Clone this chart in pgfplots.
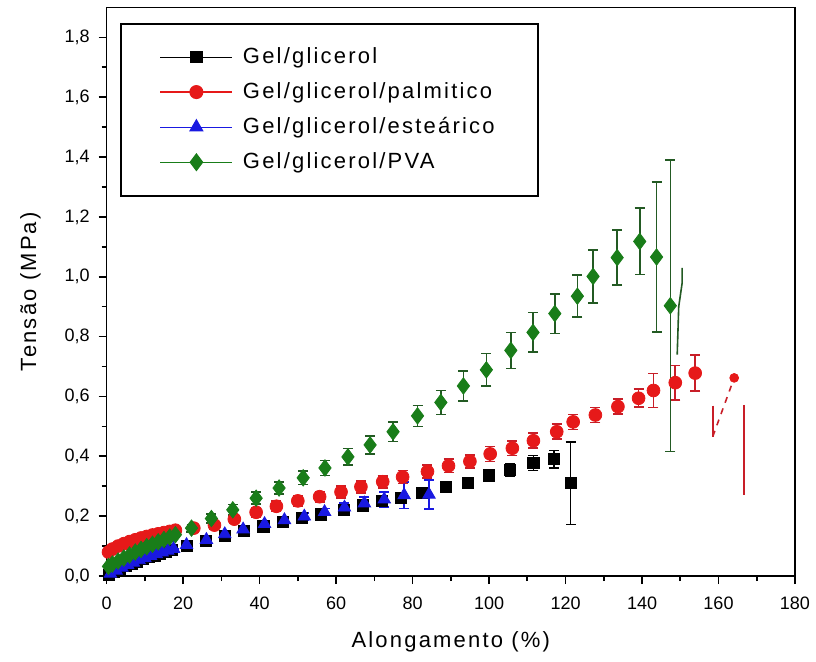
\documentclass[border=0pt]{standalone}
\usepackage{fontspec}
\setmainfont{Liberation Sans}[LetterSpace=10]
\newfontfamily\tickfont{Liberation Sans}
\usepackage{pgfplots}
\pgfplotsset{compat=1.18}
\usepackage{pgfplotstable}
\definecolor{cred}{RGB}{230,25,25}
\definecolor{credbar}{RGB}{200,30,40}
\definecolor{cblue}{RGB}{25,25,225}
\definecolor{cgreen}{RGB}{25,125,25}
\definecolor{cgreenbar}{RGB}{35,90,35}
\pgfplotsset{mylegend/.style={legend image code/.code={\draw[##1,sharp plot,line width=0.6pt,mark repeat=2,mark phase=2] plot coordinates {(0pt,0pt) (18pt,0pt) (36pt,0pt)};}}}

\pgfplotstableread{
x y e
0.5 0.004 0
2 0.014 0
3.5 0.024 0
5 0.033 0
6.5 0.041 0
8 0.049 0
9.5 0.056 0
11 0.063 0
12.5 0.069 0
14 0.075 0
15.5 0.081 0
17 0.087 0
21 0.100 0.005
26 0.116 0.005
31 0.134 0.006
36 0.150 0.006
41 0.166 0.008
46 0.181 0.008
51 0.193 0.010
56 0.206 0.010
62 0.220 0.010
67 0.236 0.012
72 0.250 0.012
77 0.262 0.015
82.5 0.277 0.015
88.7 0.297 0.015
94.4 0.312 0.015
100 0.336 0.018
105.5 0.355 0.020
111.6 0.378 0.025
117 0.390 0.030
121.3 0.310 0.138
}\tblack

\pgfplotstableread{
x y e
0.5 0.080 0
1.5 0.090 0
3 0.100 0
4.5 0.108 0
6 0.115 0
7.5 0.121 0
9 0.127 0
10.5 0.132 0
12 0.137 0
13.5 0.141 0
15 0.145 0
16.5 0.149 0
18 0.153 0.010
22.8 0.160 0.012
28.2 0.170 0.012
33.4 0.190 0.015
39.1 0.213 0.015
44.4 0.233 0.018
50.0 0.251 0.018
55.7 0.265 0.018
61.3 0.281 0.020
66.5 0.298 0.020
72.2 0.315 0.020
77.4 0.331 0.022
83.9 0.349 0.022
89.4 0.368 0.022
95.0 0.383 0.022
100.3 0.408 0.025
106.1 0.427 0.025
111.6 0.452 0.025
117.7 0.482 0.025
122.0 0.515 0.025
127.8 0.538 0.025
133.7 0.566 0.025
139.1 0.594 0.030
143.0 0.620 0.057
148.7 0.646 0.058
153.9 0.678 0.060
}\tred

\pgfplotstableread{
x y e
1 0.008 0
2.5 0.018 0
4 0.028 0
5.5 0.037 0
7 0.045 0
8.5 0.053 0
10 0.060 0
11.5 0.067 0
13 0.073 0
14.5 0.079 0
16 0.085 0
17.5 0.091 0
20.9 0.104 0.008
26.1 0.121 0.008
30.9 0.140 0.008
35.7 0.156 0.010
41.3 0.174 0.010
46.5 0.187 0.010
51.7 0.199 0.012
57.0 0.214 0.012
62.2 0.229 0.015
67.4 0.243 0.020
72.6 0.256 0.025
77.8 0.270 0.045
84.3 0.272 0.048
}\tblue

\pgfplotstableread{
x y e
0.5 0.032 0
1.5 0.040 0
3 0.050 0
4.5 0.060 0
6 0.070 0
7.5 0.080 0
9 0.089 0
10.5 0.098 0
12 0.106 0
13.5 0.114 0
15 0.122 0
16.5 0.130 0
18 0.138 0
22.2 0.160 0.012
27.4 0.192 0.015
33.0 0.221 0.018
39.1 0.260 0.020
45.1 0.294 0.020
51.4 0.328 0.022
57.1 0.361 0.025
63.1 0.398 0.028
68.9 0.438 0.030
74.9 0.482 0.033
81.3 0.535 0.035
87.4 0.580 0.040
93.3 0.635 0.050
99.3 0.689 0.055
105.7 0.754 0.060
111.5 0.814 0.066
117.2 0.877 0.066
123.1 0.935 0.070
127.2 1.001 0.089
133.5 1.064 0.092
139.4 1.118 0.111
143.8 1.066 0.251
147.4 0.903 0.487
}\tgreen

\begin{document}
\begin{tikzpicture}
\useasboundingbox (-53.3pt,-42.5pt) rectangle (354.7pt,288pt);
\begin{axis}[
  scale only axis, width=344.2pt, height=284.3pt,
  at={(0,0)}, anchor=south west,
  xmin=0, xmax=180, ymin=0, ymax=1.9,
  xtick={0,20,40,60,80,100,120,140,160,180},
  ytick={0,0.2,0.4,0.6,0.8,1.0,1.2,1.4,1.6,1.8},
  minor x tick num=1, minor y tick num=1,
  xtick pos=left, ytick pos=left, tick align=outside,
  major tick length=4pt, minor tick length=2.5pt,
  axis line style={line width=0.9pt},
  every tick/.style={black, line width=0.8pt},
  /pgf/number format/assume math mode=true,
  ticklabel style={font=\tickfont\fontsize{9}{10}\selectfont},
  xticklabel style={yshift=-3pt},
  yticklabel style={xshift=-1pt, /pgf/number format/.cd, use comma, fixed, fixed zerofill, precision=1},
  label style={font=\fontsize{11}{13}\selectfont},
  xlabel={Alongamento (\%)}, ylabel={Tensão (MPa)},
  xlabel style={yshift=-4pt},
  ylabel style={yshift=5pt},
  legend cell align=left,
  legend style={at={(rel axis cs:0.0193,0.973)}, anchor=north west, draw=black, line width=0.9pt,
    inner xsep=19.5pt, inner ysep=10pt, row sep=4pt, column sep=3pt, font=\fontsize{11}{13}\selectfont},
]
\addplot[only marks, mark=square*, mark size=2.8pt, black, mylegend,
  error bars/.cd, y dir=both, y explicit, error bar style={line width=0.8pt},
  error mark options={rotate=90, mark size=2.5pt, line width=0.8pt}]
  table[x=x, y=y, y error=e]{\tblack};
\addlegendentry{Gel/glicerol}
\addplot[only marks, mark=*, mark size=3.2pt, cred, mark options={fill=cred, draw=cred}, mylegend,
  error bars/.cd, y dir=both, y explicit, error bar style={line width=0.8pt, credbar},
  error mark options={rotate=90, mark size=2.5pt, line width=0.8pt, credbar}]
  table[x=x, y=y, y error=e]{\tred};
\addlegendentry{Gel/glicerol/palmitico}
\addplot[only marks, mark=triangle*, mark size=3.6pt, cblue, mark options={fill=cblue, draw=cblue}, mylegend,
  error bars/.cd, y dir=both, y explicit, error bar style={line width=0.8pt},
  error mark options={rotate=90, mark size=2.5pt, line width=0.8pt}]
  table[x=x, y=y, y error=e]{\tblue};
\addlegendentry{Gel/glicerol/esteárico}
\addplot[only marks, mark=diamond*, mark size=4.1pt, cgreen, mark options={fill=cgreen, draw=cgreen}, mylegend,
  error bars/.cd, y dir=both, y explicit, error bar style={line width=0.8pt, cgreenbar},
  error mark options={rotate=90, mark size=2.5pt, line width=0.8pt, cgreenbar}]
  table[x=x, y=y, y error=e]{\tgreen};
\addlegendentry{Gel/glicerol/PVA}
\addplot[forget plot, cgreenbar, line width=0.8pt] coordinates {(150.5,1.03) (150.5,0.98) (149.6,0.90) (149.2,0.74)};
\addplot[forget plot, credbar, line width=0.8pt] coordinates {(158.5,0.569) (158.5,0.466)};
\addplot[forget plot, credbar, line width=0.8pt, dashed] coordinates {(158.5,0.466) (164.1,0.662)};
\addplot[forget plot, credbar, line width=0.8pt] coordinates {(166.7,0.572) (166.7,0.271)};
\addplot[forget plot, only marks, mark=*, mark size=2.2pt, cred] coordinates {(164.1,0.662)};
\end{axis}
\end{tikzpicture}
\end{document}
